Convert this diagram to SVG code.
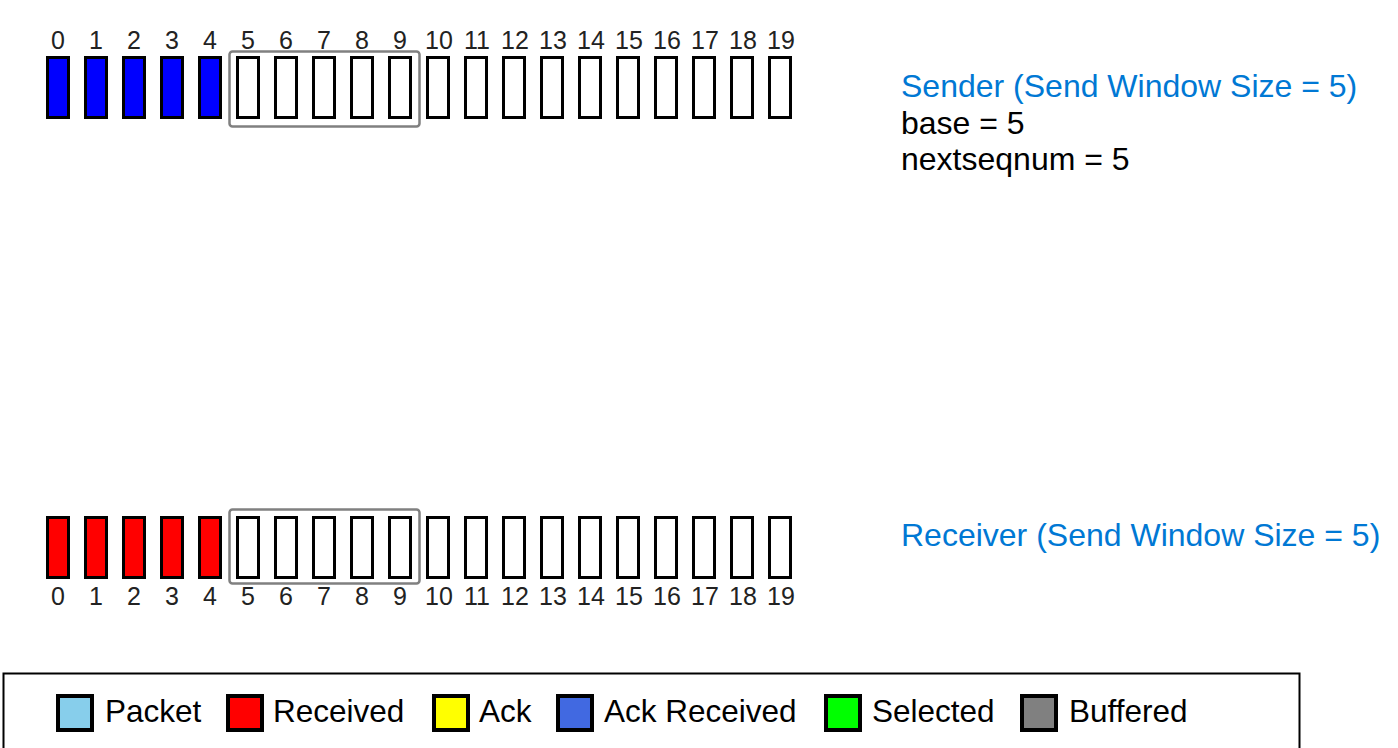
<svg xmlns="http://www.w3.org/2000/svg" width="1398" height="748" viewBox="0 0 1398 748">
<style>
.bg{fill:#ffffff}
.box{stroke:#000;stroke-width:3;fill:#fff}
.snd{fill:#0000ff}
.rcv{fill:#ff0000}
.win{fill:none;stroke:#808080;stroke-width:2.5}
.num{font-family:"Liberation Sans",Arial,sans-serif;font-size:25px;fill:#222;text-anchor:middle}
.title{font-family:"Liberation Sans",Arial,sans-serif;font-size:32px;fill:#0078d4}
.info{font-family:"Liberation Sans",Arial,sans-serif;font-size:32px;fill:#000}
.leg{font-family:"Liberation Sans",Arial,sans-serif;font-size:31.5px;fill:#000}
.sw{stroke:#000;stroke-width:4}
</style>
<defs>
<rect id="b" width="21" height="60" class="box"/>
</defs>
<rect class="bg" x="0" y="0" width="1398" height="748"/>
<g id="sender">
<g id="sender-boxes">
<rect x="47.5" y="57.5" width="21" height="60" class="box snd"/>
<rect x="85.5" y="57.5" width="21" height="60" class="box snd"/>
<rect x="123.5" y="57.5" width="21" height="60" class="box snd"/>
<rect x="161.5" y="57.5" width="21" height="60" class="box snd"/>
<rect x="199.5" y="57.5" width="21" height="60" class="box snd"/>
<use href="#b" x="237.5" y="57.5"/>
<use href="#b" x="275.5" y="57.5"/>
<use href="#b" x="313.5" y="57.5"/>
<use href="#b" x="351.5" y="57.5"/>
<use href="#b" x="389.5" y="57.5"/>
<use href="#b" x="427.5" y="57.5"/>
<use href="#b" x="465.5" y="57.5"/>
<use href="#b" x="503.5" y="57.5"/>
<use href="#b" x="541.5" y="57.5"/>
<use href="#b" x="579.5" y="57.5"/>
<use href="#b" x="617.5" y="57.5"/>
<use href="#b" x="655.5" y="57.5"/>
<use href="#b" x="693.5" y="57.5"/>
<use href="#b" x="731.5" y="57.5"/>
<use href="#b" x="769.5" y="57.5"/>
</g>
<rect id="sender-window" class="win" x="229.5" y="51.5" width="190" height="75" rx="3"/>
<g id="sender-numbers">
<text class="num" x="58" y="49">0</text>
<text class="num" x="96" y="49">1</text>
<text class="num" x="134" y="49">2</text>
<text class="num" x="172" y="49">3</text>
<text class="num" x="210" y="49">4</text>
<text class="num" x="248" y="49">5</text>
<text class="num" x="286" y="49">6</text>
<text class="num" x="324" y="49">7</text>
<text class="num" x="362" y="49">8</text>
<text class="num" x="400" y="49">9</text>
<text class="num" x="439" y="49">10</text>
<text class="num" x="477" y="49">11</text>
<text class="num" x="515" y="49">12</text>
<text class="num" x="553" y="49">13</text>
<text class="num" x="591" y="49">14</text>
<text class="num" x="629" y="49">15</text>
<text class="num" x="667" y="49">16</text>
<text class="num" x="705" y="49">17</text>
<text class="num" x="743" y="49">18</text>
<text class="num" x="781" y="49">19</text>
</g>
<text class="title" x="901" y="97">Sender (Send Window Size = 5)</text>
<text class="info" x="901" y="133.5">base = 5</text>
<text class="info" x="901" y="170">nextseqnum = 5</text>
</g>
<g id="receiver">
<g id="receiver-boxes">
<rect x="47.5" y="517.5" width="21" height="60" class="box rcv"/>
<rect x="85.5" y="517.5" width="21" height="60" class="box rcv"/>
<rect x="123.5" y="517.5" width="21" height="60" class="box rcv"/>
<rect x="161.5" y="517.5" width="21" height="60" class="box rcv"/>
<rect x="199.5" y="517.5" width="21" height="60" class="box rcv"/>
<use href="#b" x="237.5" y="517.5"/>
<use href="#b" x="275.5" y="517.5"/>
<use href="#b" x="313.5" y="517.5"/>
<use href="#b" x="351.5" y="517.5"/>
<use href="#b" x="389.5" y="517.5"/>
<use href="#b" x="427.5" y="517.5"/>
<use href="#b" x="465.5" y="517.5"/>
<use href="#b" x="503.5" y="517.5"/>
<use href="#b" x="541.5" y="517.5"/>
<use href="#b" x="579.5" y="517.5"/>
<use href="#b" x="617.5" y="517.5"/>
<use href="#b" x="655.5" y="517.5"/>
<use href="#b" x="693.5" y="517.5"/>
<use href="#b" x="731.5" y="517.5"/>
<use href="#b" x="769.5" y="517.5"/>
</g>
<rect id="receiver-window" class="win" x="229.5" y="509.5" width="190" height="74" rx="3"/>
<g id="receiver-numbers">
<text class="num" x="58" y="605">0</text>
<text class="num" x="96" y="605">1</text>
<text class="num" x="134" y="605">2</text>
<text class="num" x="172" y="605">3</text>
<text class="num" x="210" y="605">4</text>
<text class="num" x="248" y="605">5</text>
<text class="num" x="286" y="605">6</text>
<text class="num" x="324" y="605">7</text>
<text class="num" x="362" y="605">8</text>
<text class="num" x="400" y="605">9</text>
<text class="num" x="439" y="605">10</text>
<text class="num" x="477" y="605">11</text>
<text class="num" x="515" y="605">12</text>
<text class="num" x="553" y="605">13</text>
<text class="num" x="591" y="605">14</text>
<text class="num" x="629" y="605">15</text>
<text class="num" x="667" y="605">16</text>
<text class="num" x="705" y="605">17</text>
<text class="num" x="743" y="605">18</text>
<text class="num" x="781" y="605">19</text>
</g>
<text class="title" x="901" y="546">Receiver (Send Window Size = 5)</text>
</g>
<g id="legend">
<rect x="3.5" y="673.5" width="1296" height="90" fill="#fff" stroke="#000" stroke-width="2"/>
<rect class="sw" x="58" y="696" width="34" height="34" fill="#87ceeb"/>
<text class="leg" x="105" y="722">Packet</text>
<rect class="sw" x="228" y="696" width="34" height="34" fill="#ff0000"/>
<text class="leg" x="273" y="722">Received</text>
<rect class="sw" x="434" y="696" width="34" height="34" fill="#ffff00"/>
<text class="leg" x="479" y="722">Ack</text>
<rect class="sw" x="558" y="696" width="34" height="34" fill="#4169e1"/>
<text class="leg" x="604" y="722">Ack Received</text>
<rect class="sw" x="826" y="696" width="34" height="34" fill="#00ff00"/>
<text class="leg" x="872" y="722">Selected</text>
<rect class="sw" x="1022" y="696" width="34" height="34" fill="#808080"/>
<text class="leg" x="1069" y="722">Buffered</text>
</g>
<g id="connectors"/>
</svg>
